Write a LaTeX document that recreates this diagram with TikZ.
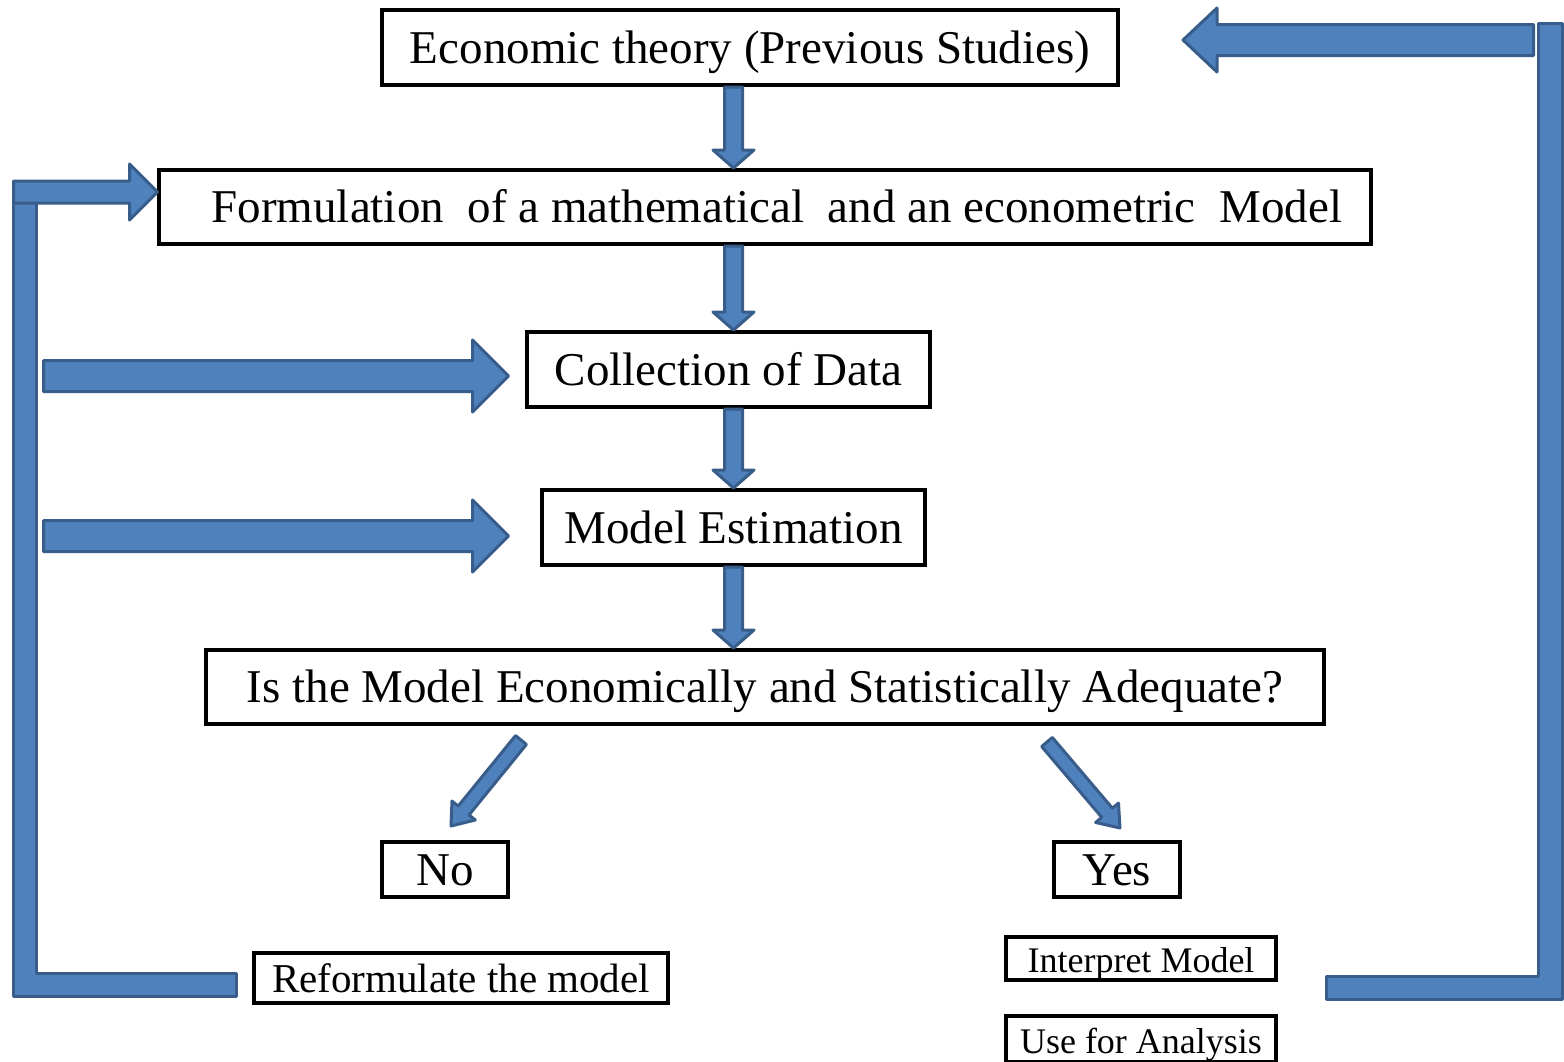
\documentclass[tikz,border=0pt]{standalone}
\usepackage{fontspec}
\setmainfont{Liberation Serif}
\usetikzlibrary{calc}

% block arrow: #1 tail, #2 tip, #3 half shaft, #4 half head, #5 head length
\newcommand{\flowarrow}[5]{%
  \coordinate (fa-h) at ($(#2)!#5!(#1)$);
  \draw [fat] ($(#1)!#3!90:(#2)$) -- ($(fa-h)!#3!-90:(#1)$) -- ($(fa-h)!#4!-90:(#1)$) -- (#2)
    -- ($(fa-h)!#4!90:(#1)$) -- ($(fa-h)!#3!90:(#1)$) -- ($(#1)!#3!-90:(#2)$) -- cycle ;}

\begin{document}
\begin{tikzpicture}[x=1pt,y=1pt,yscale=-1,xscale=1,
  box/.style={draw, line width=4, inner sep=0, align=center, text height=31pt, text depth=0pt, font=\fontsize{47}{52}\selectfont},
  smallbox/.style={box, text height=28pt},
  fat/.style={fill={rgb, 255:red, 79; green, 129; blue, 189}, draw={rgb, 255:red, 56; green, 93; blue, 138}, line width=3, line join=round}]
\useasboundingbox (0,0) rectangle (1564,1061);

% Text Node
\node [box, minimum width=736, minimum height=75] (econ) at (750,47.5) {Economic theory (Previous Studies)};
% Text Node
\node [box, minimum width=1212, minimum height=74] (form) at (765,207) {\ \ Formulation\ \ of a mathematical\ \ and an econometric\ \ Model};
% Text Node
\node [box, minimum width=403, minimum height=75] (coll) at (728.5,369.5) {Collection of Data};
% Text Node
\node [box, minimum width=383, minimum height=75] (est) at (733.5,527.5) {Model Estimation};
% Text Node
\node [box, minimum width=1118, minimum height=74] (ask) at (765,687) {Is the Model Economically and Statistically Adequate?};
% Text Node
\node [box, minimum width=126, minimum height=55] (no) at (445,869.5) {No};
% Text Node
\node [box, minimum width=126, minimum height=55] (yes) at (1117,869.5) {Yes};
% Text Node
\node [smallbox, minimum width=414, minimum height=50, font=\fontsize{41}{45}\selectfont] (reform) at (461,978) {Reformulate the model};
% Text Node
\node [smallbox, line width=3.5, minimum width=270, minimum height=43, font=\fontsize{36}{40}\selectfont] (interp) at (1141,958.5) {Interpret Model};
% Text Node
\node [smallbox, line width=3.5, minimum width=270, minimum height=46, font=\fontsize{36}{40}\selectfont] (use) at (1141,1039) {Use for Analysis};

%Block Arrows down the middle
\flowarrow{econ.south -| est.north}{form.north -| est.north}{9pt}{20.5pt}{18pt}
\flowarrow{form.south -| est.north}{coll.north -| est.north}{9pt}{20.5pt}{18pt}
\flowarrow{coll.south -| est.north}{est.north}{9pt}{20.5pt}{18pt}
\flowarrow{est.south}{ask.north -| est.north}{9pt}{20.5pt}{18pt}

%Block Arrows to No and Yes
\coordinate (noTail) at (521,740);
\coordinate (noTip) at ($(no.north)+(6,-14)$);
\flowarrow{noTail}{noTip}{7pt}{15pt}{20pt}
\coordinate (yesTail) at (1047,742);
\coordinate (yesTip) at ($(yes.north)+(3,-12)$);
\flowarrow{yesTail}{yesTip}{7pt}{15pt}{20pt}

%Shape: left loop back
\draw [fat] (13.5,181.5) -- (13.5,996.5) -- (236.5,996.5) -- (236.5,973.5) -- (36.5,973.5) -- (36.5,181.5) -- cycle ;
\coordinate (formTail) at (13.5,192);
\coordinate (formTip) at ($(form.west)+(0.5,-15)$);
\flowarrow{formTail}{formTip}{11pt}{28pt}{28pt}

%Block Arrows into data and estimation
\coordinate (collTail) at (43.5,376);
\coordinate (collTip) at ($(coll.west)+(-16.5,6.5)$);
\flowarrow{collTail}{collTip}{15.5pt}{36pt}{36pt}
\coordinate (estTail) at (43.5,536);
\coordinate (estTip) at ($(est.west)+(-31.5,8.5)$);
\flowarrow{estTail}{estTip}{15.5pt}{36pt}{36pt}

%Shape: right loop back
\draw [fat] (1538.5,23.5) -- (1538.5,976.5) -- (1326.5,976.5) -- (1326.5,999.5) -- (1562.5,999.5) -- (1562.5,23.5) -- cycle ;
\coordinate (econTail) at (1533.5,40);
\coordinate (econTip) at ($(econ.east)+(63,-7.5)$);
\flowarrow{econTail}{econTip}{15.5pt}{32pt}{34pt}

\end{tikzpicture}
\end{document}
